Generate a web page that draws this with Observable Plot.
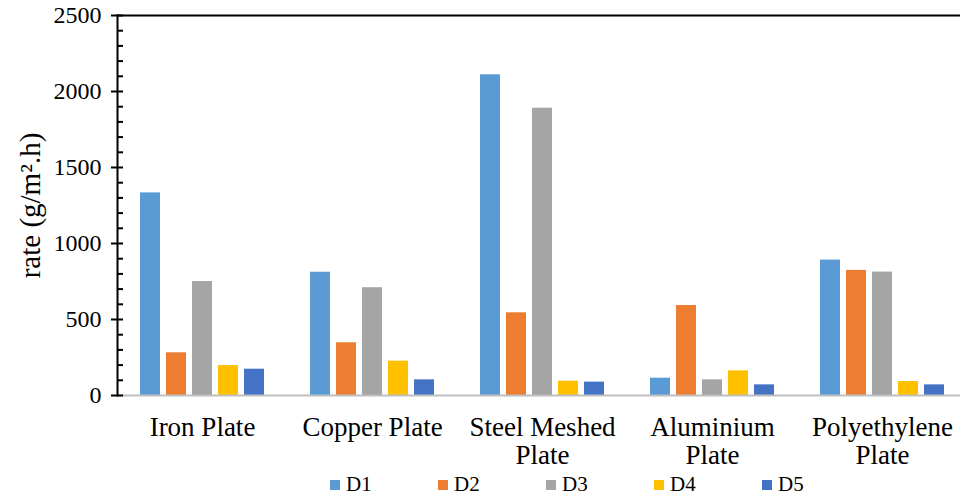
<!DOCTYPE html>
<html>
<head>
<meta charset="utf-8">
<script src="https://cdn.jsdelivr.net/npm/d3@7"></script>
<script src="https://cdn.jsdelivr.net/npm/@observablehq/plot@0.6"></script>
<style>
  html, body { margin: 0; padding: 0; background: white; }
  #chart { width: 960px; height: 472px; }
  #legend { height: 25px; display: flex; align-items: center; padding-left: 330px; font-family: "Liberation Serif", serif; font-size: 21px; color: black; }
  .item { width: 108px; display: flex; align-items: center; }
  .sw { width: 10px; height: 10px; margin-right: 6px; }
</style>
</head>
<body>
<div id="chart"></div>
<div id="legend"></div>
<script>
const categories = ["Iron Plate", "Copper Plate", "Steel Meshed Plate", "Aluminium Plate", "Polyethylene Plate"];
const categoryLabels = ["Iron Plate", "Copper Plate", "Steel Meshed\nPlate", "Aluminium\nPlate", "Polyethylene\nPlate"];
const series = ["D1", "D2", "D3", "D4", "D5"];
const D1 = [1333, 811, 2110, 114, 891];
const D2 = [281, 347, 544, 592, 823];
const D3 = [750, 709, 1890, 103, 812];
const D4 = [197, 226, 94, 162, 92];
const D5 = [173, 103, 88, 70, 70];
const colors = ["#5B9BD5", "#ED7D31", "#A5A5A5", "#FFC000", "#4472C4"];
const yTicks = [0, 500, 1000, 1500, 2000, 2500];
const yMinorTicks = d3.range(0, 2501, 100);
const yTitle = "rate (g/m².h)";

const seriesValues = [D1, D2, D3, D4, D5];
const data = [];
categories.forEach((c, i) => {
  series.forEach((s, j) => data.push({cat: c, series: s, value: seriesValues[j][i]}));
});

const chart = Plot.plot({
  width: 960,
  height: 472,
  marginTop: 15,
  marginBottom: 77,
  marginLeft: 117,
  marginRight: 0,
  style: {fontFamily: "Liberation Serif", color: "black", background: "white"},
  fx: {domain: categories, range: [117, 967], padding: 0, label: null},
  x: {domain: series, paddingInner: 0.23, paddingOuter: 0.884, axis: null},
  y: {domain: [0, 2500]},
  color: {domain: series, range: colors},
  marks: [
    Plot.ruleY([2500], {stroke: "black", strokeWidth: 2}),
    Plot.barY(data, {fx: "cat", x: "series", y: "value", fill: "series"}),
    Plot.ruleY([0], {stroke: "#bfbfbf", strokeWidth: 2}),
    Plot.axisY({ticks: yTicks, tickSize: 6, tickPadding: 10, fontSize: 24, fontFamily: "Liberation Serif",
      strokeWidth: 2, tickFormat: d => String(d), label: null}),
    Plot.axisY({ticks: yMinorTicks, tickSize: -6, strokeWidth: 2, text: null, label: null}),
    Plot.frame({anchor: "left", facetAnchor: "left", stroke: "black", strokeWidth: 2}),
    Plot.text([yTitle], {frameAnchor: "left", textAnchor: "middle", rotate: -90, dx: -87, fontSize: 29,
      fontFamily: "Liberation Serif", fill: "black", facetAnchor: "left"}),
    Plot.axisFx({anchor: "bottom", tickSize: 0, tickPadding: 20, fontSize: 27, lineHeight: 1.05,
      fontFamily: "Liberation Serif", tickFormat: d => categoryLabels[categories.indexOf(d)], label: null})
  ]
});
document.getElementById("chart").appendChild(chart);

const legend = document.getElementById("legend");
series.forEach((s, i) => {
  const it = document.createElement("div");
  it.className = "item";
  const sw = document.createElement("span");
  sw.className = "sw";
  sw.style.background = colors[i];
  const t = document.createElement("span");
  t.textContent = s;
  it.appendChild(sw);
  it.appendChild(t);
  legend.appendChild(it);
});
</script>
</body>
</html>
